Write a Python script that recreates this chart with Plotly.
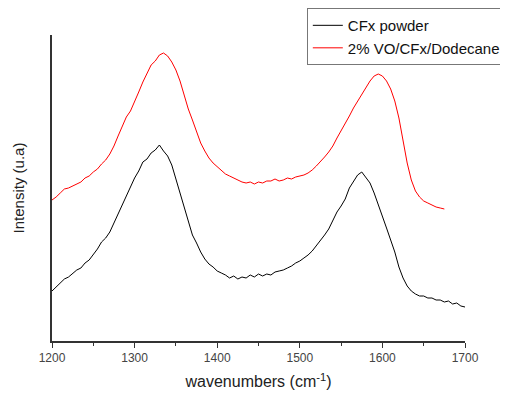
import plotly.graph_objects as go

wn_black = list(range(1200, 1701, 5))
cfx_powder = [50, 54, 57, 62, 64, 68, 71, 73, 78, 81,
              86, 92, 99, 103, 109, 118, 127, 136, 145, 153,
              163, 170, 179, 182, 188, 191, 196, 190, 185, 176,
              162, 148, 133, 120, 106, 98, 89, 82, 77, 74,
              70, 68, 66, 63, 65, 62, 64, 63, 66, 64,
              67, 65, 67, 66, 69, 70, 71, 73, 75, 78,
              80, 83, 86, 90, 95, 100, 106, 112, 121, 129,
              135, 142, 153, 160, 166, 169, 164, 158, 148, 137,
              125, 113, 101, 89, 74, 63, 55, 50, 47, 45,
              45, 43, 43, 41, 41, 39, 40, 37, 38, 35,
              34]

wn_red = list(range(1200, 1676, 5))
vo_cfx_dodecane = [141, 144, 148, 152, 153, 155, 157, 159, 163, 165,
                   169, 172, 177, 181, 187, 195, 205, 215, 224, 230,
                   239, 249, 259, 268, 276, 280, 286, 288, 285, 279,
                   271, 260, 246, 232, 221, 209, 198, 190, 183, 178,
                   174, 170, 167, 165, 163, 161, 159, 158, 159, 157,
                   159, 158, 160, 160, 162, 160, 161, 163, 162, 164,
                   165, 166, 168, 171, 175, 179, 184, 189, 195, 203,
                   210, 218, 225, 233, 240, 247, 254, 260, 265, 267,
                   265, 260, 252, 240, 223, 201, 178, 161, 150, 144,
                   140, 138, 136, 134, 133, 132]

x_ticks = [1200, 1300, 1400, 1500, 1600, 1700]

fig = go.Figure()
fig.add_trace(go.Scatter(x=wn_black, y=cfx_powder, mode="lines", name="CFx powder",
                         line=dict(color="black", width=1)))
fig.add_trace(go.Scatter(x=wn_red, y=vo_cfx_dodecane, mode="lines", name="2% VO/CFx/Dodecane",
                         line=dict(color="#ff0000", width=1)))

# the page body adds an 8px margin, so the figure is 8px smaller on each side
fig.update_layout(
    width=500, height=386,
    margin=dict(l=44, r=43, t=27, b=53, autoexpand=False),
    paper_bgcolor="white", plot_bgcolor="white",
    font=dict(family="Liberation Sans, Arial, sans-serif", color="#222"),
    showlegend=True,
    legend=dict(x=0.617, y=1.088, xanchor="left", yanchor="top",
                bordercolor="#777", borderwidth=1, bgcolor="white",
                font=dict(size=15, color="#111"), tracegroupgap=0,
                itemwidth=30),
    xaxis=dict(range=[1200, 1700], tickvals=x_ticks, ticktext=[str(v) for v in x_ticks],
               automargin=False,
               showgrid=False, zeroline=False, showline=True, linecolor="#333", linewidth=1.5,
               ticks="outside", ticklen=5, tickcolor="#333",
               minor=dict(dtick=50, ticks="outside", ticklen=3, tickcolor="#333"),
               tickfont=dict(size=12, color="#444"),
               title=dict(text="wavenumbers (cm<sup>-1</sup>)", font=dict(size=16, color="#222"), standoff=12)),
    yaxis=dict(range=[0, 306], automargin=False, showgrid=False, zeroline=False, showline=True,
               linecolor="#333", linewidth=1.5, showticklabels=False, ticks="",
               title=dict(text="Intensity (u.a)", font=dict(size=15, color="#222"), standoff=22)),
)

fig.write_html("out.html")
